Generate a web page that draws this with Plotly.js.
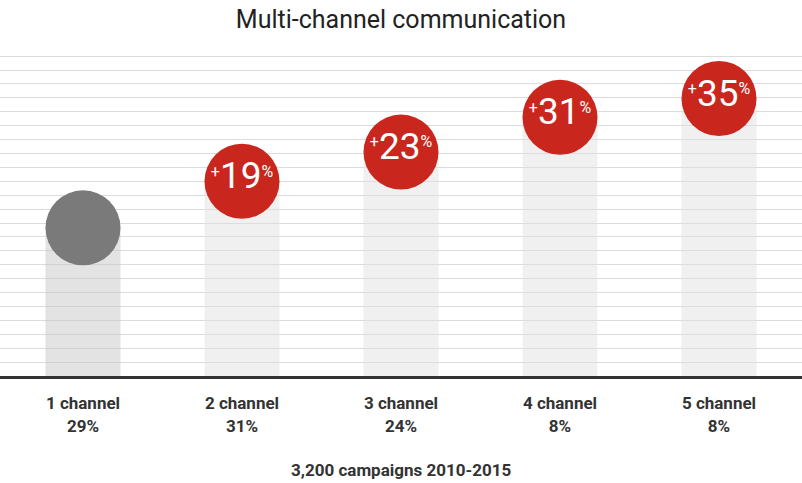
<!DOCTYPE html>
<html>
<head>
<meta charset="utf-8">
<script src="https://cdn.plot.ly/plotly-3.0.1.min.js"></script>
<style>html,body{margin:0;padding:0;background:#fff;}#chart{width:802px;height:483px;}</style>
</head>
<body>
<div id="chart"></div>
<script>
// Data
var categories = ['1 channel', '2 channel', '3 channel', '4 channel', '5 channel'];
var shares = ['29%', '31%', '24%', '8%', '8%'];
var levels = [10.65, 14.0, 16.1, 18.6, 19.95];
var lifts = [null, 19, 23, 31, 35];
var subtitle = '3,200 campaigns 2010-2015';
var chartTitle = 'Multi-channel communication';

var idx = categories.map(function (c, i) { return i; });
var tickText = categories.map(function (c, i) { return c + '<br>' + shares[i]; });
var supS = function (s) { return '<sup><span style="font-size:16px">' + s + '</span></sup>'; };
var circleText = lifts.map(function (v) {
  return v === null ? '' : supS('+') + '<span style="font-size:37px">' + v + '</span>' + supS('%');
});

var bars = {
  type: 'bar',
  x: idx,
  y: levels,
  width: 0.472,
  marker: {
    color: idx.map(function (i) { return i === 0 ? 'rgba(194,194,194,0.46)' : 'rgba(222,222,222,0.46)'; }),
    line: { width: 0 }
  },
  hoverinfo: 'skip'
};

var circles = {
  type: 'scatter',
  mode: 'markers+text',
  x: idx,
  y: levels,
  text: circleText,
  textposition: 'middle center',
  textfont: { family: 'Roboto, sans-serif', size: 28, color: '#ffffff' },
  marker: {
    size: 75,
    color: idx.map(function (i) { return i === 0 ? '#7a7a7a' : '#c9271d'; }),
    line: { width: 0 }
  },
  cliponaxis: false,
  hoverinfo: 'skip'
};

var layout = {
  width: 802,
  height: 483,
  margin: { l: 0, r: 0, t: 54, b: 107, pad: 0 },
  paper_bgcolor: '#ffffff',
  plot_bgcolor: '#ffffff',
  showlegend: false,
  hovermode: false,
  title: {
    text: chartTitle,
    font: { family: 'Roboto, sans-serif', size: 25, color: '#222222' },
    x: 0.5, xanchor: 'center',
    y: 1 - 19 / 483, yanchor: 'middle', yref: 'container'
  },
  xaxis: {
    range: [-0.522, 4.522],
    tickmode: 'array',
    tickvals: idx,
    ticktext: tickText,
    ticks: '',
    ticklabelstandoff: 10,
    showgrid: false,
    zeroline: false,
    showline: true,
    linecolor: '#333333',
    linewidth: 3,
    tickfont: { family: 'Roboto, sans-serif', size: 17, color: '#333333', weight: 'bold' },
    fixedrange: true
  },
  yaxis: {
    range: [0, 23.15],
    dtick: 1,
    showticklabels: false,
    ticks: '',
    showgrid: true,
    gridcolor: '#dcdcdc',
    gridwidth: 1,
    zeroline: false,
    showline: false,
    fixedrange: true
  },
  annotations: [{
    text: subtitle,
    xref: 'paper', yref: 'paper',
    x: 0.5, y: -0.293,
    xanchor: 'center', yanchor: 'middle',
    showarrow: false,
    font: { family: 'Roboto, sans-serif', size: 17, color: '#333333', weight: 'bold' }
  }]
};

Plotly.newPlot('chart', [bars, circles], layout, { displayModeBar: false, staticPlot: true });
</script>
</body>
</html>
